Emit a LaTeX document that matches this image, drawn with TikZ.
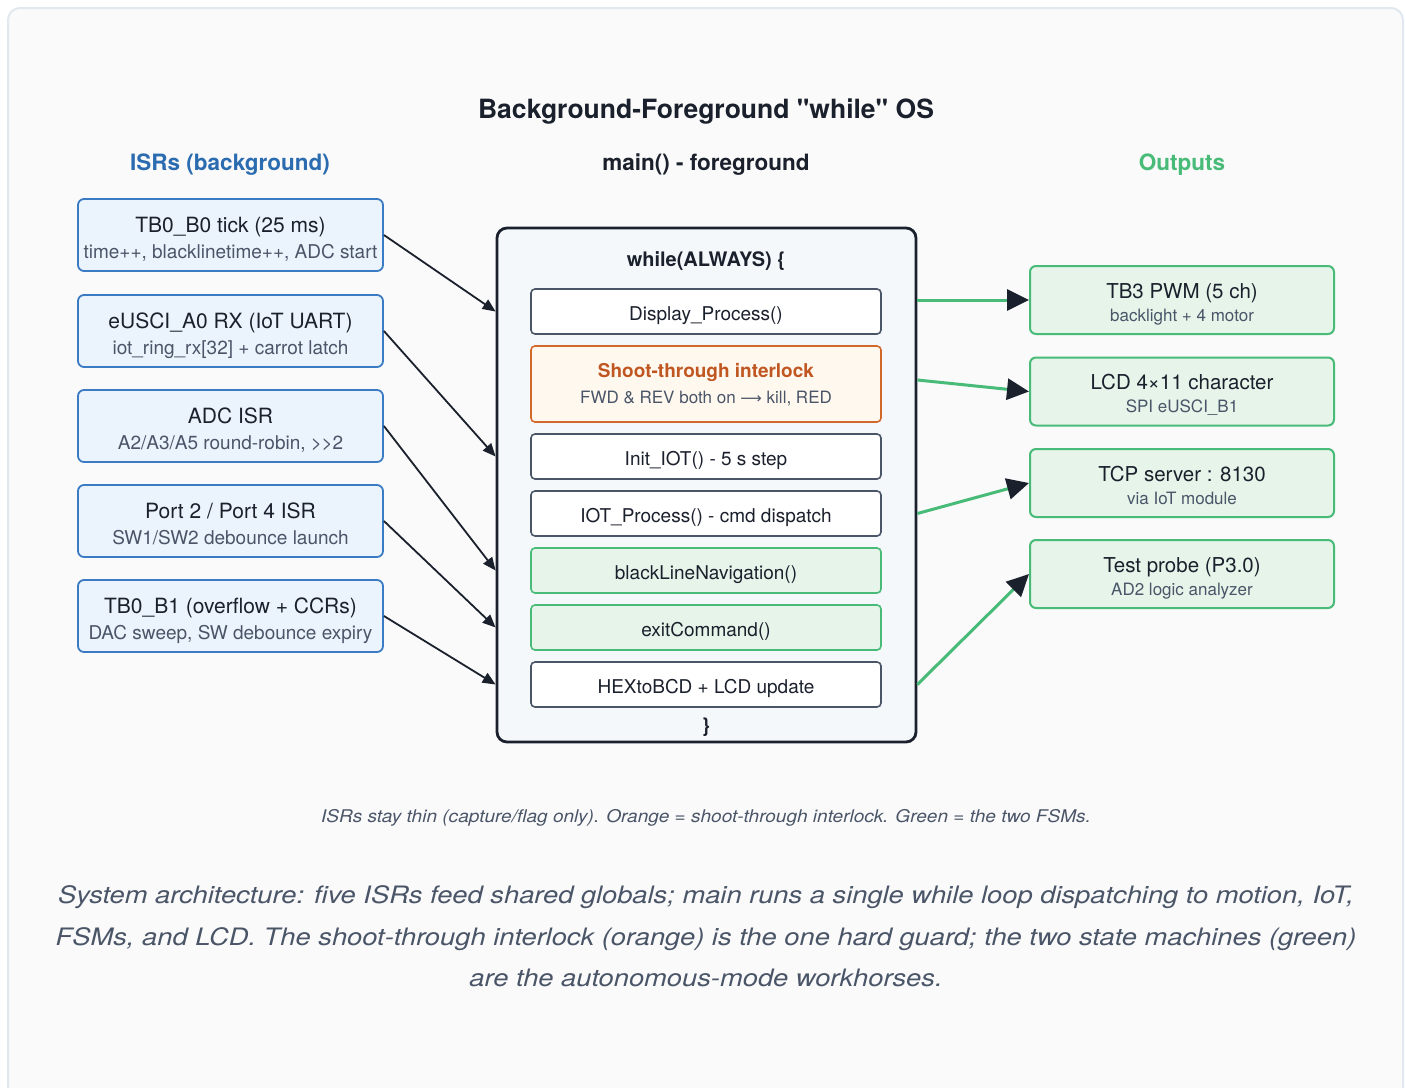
\documentclass[tikz,border=0pt]{standalone}
\usepackage{fontspec}
\setmainfont{TeX Gyre Heros}
\newfontfamily\symfont{DejaVu Sans}
\usetikzlibrary{arrows.meta,calc}
\definecolor{ink}{HTML}{1A202C}
\definecolor{subgray}{HTML}{4A5568}
\definecolor{isrblue}{HTML}{2B6CB0}
\definecolor{isrfill}{HTML}{EBF4FD}
\definecolor{isrline}{HTML}{3B7BC4}
\definecolor{grn}{HTML}{48BB78}
\definecolor{grnfill}{HTML}{E6F4EA}
\definecolor{orn}{HTML}{C05621}
\definecolor{ornline}{HTML}{D2692A}
\definecolor{ornfill}{HTML}{FFF8EE}
\definecolor{mainfill}{HTML}{F5F8FB}
\definecolor{panelfill}{HTML}{FAFAFA}
\definecolor{panelline}{HTML}{E2E8F0}
\definecolor{innerline}{HTML}{4A5568}
\newcommand\setfs[1]{\fontsize{#1}{#1}\selectfont}
\begin{document}
\begin{tikzpicture}[x=1pt,y=-1pt,
  isrbox/.style={draw=isrline, fill=isrfill, line width=1.8pt, rounded corners=6pt,
    minimum width=305pt, minimum height=72pt, inner sep=0pt},
  outbox/.style={draw=grn, fill=grnfill, line width=2pt, rounded corners=6pt,
    minimum width=304pt, minimum height=68pt, inner sep=0pt},
  mainbox/.style={draw=ink, fill=mainfill, line width=2.8pt, rounded corners=10pt,
    minimum width=419pt, minimum height=514pt, inner sep=0pt},
  stepbox/.style={draw=innerline, fill=white, line width=1.6pt, rounded corners=4pt,
    minimum width=350pt, minimum height=45pt, inner sep=0pt},
  fsmbox/.style={stepbox, draw=grn, fill=grnfill},
  guardbox/.style={stepbox, draw=ornline, fill=ornfill, minimum height=76pt},
  ttl/.style={anchor=base, text=ink, font=\setfs{21}},
  sub/.style={anchor=base, text=subgray, font=\setfs{19}},
  osub/.style={anchor=base, text=subgray, font=\setfs{17}},
  itxt/.style={anchor=base, text=ink, font=\setfs{19}},
  hdr/.style={anchor=base, font=\bfseries\setfs{22.5}},
  captxt/.style={anchor=base, text=subgray, font=\itshape\setfs{24}},
  ln/.style={draw=ink, line width=1.8pt, -{Triangle[length=13pt,width=11pt]}},
  gln/.style={draw=grn, line width=3pt, -{Triangle[length=22pt,width=21pt,color=ink]}}
]
\useasboundingbox (0,0) rectangle (1405,1087);
\fill[white] (0,0) rectangle (1405,1087);
\draw[draw=panelline, fill=panelfill, line width=2pt, rounded corners=12pt] (8,8) rectangle (1403,1120);

% titles
\node[anchor=base, text=ink, font=\bfseries\setfs{26.5}] (title) at (706,118) {Background-Foreground \textquotedbl while\textquotedbl{} OS};
\node[hdr, text=isrblue] (hisr) at (230,170.5) {ISRs (background)};
\node[hdr, text=ink] (hmain) at (706,170.5) {main() - foreground};
\node[hdr, text=grn] (hout) at (1182,170.5) {Outputs};

% ISR boxes
\node[isrbox] (i1) at (230.5,235) {};
\node[isrbox] (i2) at (230.5,331) {};
\node[isrbox] (i3) at (230.5,426) {};
\node[isrbox] (i4) at (230.5,521) {};
\node[isrbox] (i5) at (230.5,616) {};
\node[ttl] at ($(i1.center)+(0,-3)$) {TB0\_B0 tick (25 ms)};
\node[sub] at ($(i1.center)+(0,23.5)$) {time++, blacklinetime++, ADC start};
\node[ttl] at ($(i2.center)+(0,-3)$) {eUSCI\_A0 RX (IoT UART)};
\node[sub] at ($(i2.center)+(0,23.5)$) {iot\_ring\_rx[32] + carrot latch};
\node[ttl] at ($(i3.center)+(0,-3)$) {ADC ISR};
\node[sub] at ($(i3.center)+(0,23.5)$) {A2/A3/A5 round-robin, >\kern-0.5pt>2};
\node[ttl] at ($(i4.center)+(0,-3)$) {Port 2 / Port 4 ISR};
\node[sub] at ($(i4.center)+(0,23.5)$) {SW1/SW2 debounce launch};
\node[ttl] at ($(i5.center)+(0,-3)$) {TB0\_B1 (overflow + CCRs)};
\node[sub] at ($(i5.center)+(0,23.5)$) {DAC sweep, SW debounce expiry};

% main loop
\node[mainbox] (main) at (706.5,485) {};
\node[anchor=base, text=ink, font=\bfseries\setfs{20}] (wh) at (706,266.5) {while(ALWAYS) \{};
\node[stepbox] (disp) at (706,311.5) {};
\node[itxt] at ($(disp.center)+(0,9)$) {Display\_Process()};
\node[guardbox] (shoot) at (706,384) {};
\node[anchor=base, text=orn, font=\bfseries\setfs{19}] at ($(shoot.center)+(0,-6.7)$) {Shoot-through interlock};
\node[osub] at ($(shoot.center)+(0,19.3)$) {FWD \& REV both on {\symfont\setfs{15}⟶} kill, RED};
\node[stepbox] (init) at (706,456.5) {};
\node[itxt] at ($(init.center)+(0,9)$) {Init\_IOT() - 5 s step};
\node[stepbox] (iotp) at (706,513.5) {};
\node[itxt] at ($(iotp.center)+(0,9)$) {IOT\_Process() - cmd dispatch};
\node[fsmbox] (bln) at (706,570.5) {};
\node[itxt] at ($(bln.center)+(0,9)$) {blackLineNavigation()};
\node[fsmbox] (exitc) at (706,627.5) {};
\node[itxt] at ($(exitc.center)+(0,9)$) {exitCommand()};
\node[stepbox] (hex) at (706,684.5) {};
\node[itxt] at ($(hex.center)+(0,9)$) {HEXtoBCD + LCD update};
\node[text=ink, font=\bfseries\setfs{20}] (cb) at (706,727) {\}};

% outputs
\node[outbox] (o1) at (1182,300) {};
\node[outbox] (o2) at (1182,391.5) {};
\node[outbox] (o3) at (1182,483) {};
\node[outbox] (o4) at (1182,574) {};
\node[ttl, font=\setfs{20.5}] at ($(o1.center)+(0,-2)$) {TB3 PWM (5 ch)};
\node[osub] at ($(o1.center)+(0,21)$) {backlight + 4 motor};
\node[ttl, font=\setfs{20.5}] at ($(o2.center)+(0,-2)$) {LCD 4×11 character};
\node[osub] at ($(o2.center)+(0,21)$) {SPI eUSCI\_B1};
\node[ttl, font=\setfs{20.5}] at ($(o3.center)+(0,-2)$) {TCP server : 8130};
\node[osub] at ($(o3.center)+(0,21)$) {via IoT module};
\node[ttl, font=\setfs{20.5}] at ($(o4.center)+(0,-2)$) {Test probe (P3.0)};
\node[osub] at ($(o4.center)+(0,21)$) {AD2 logic analyzer};

% connectors
\draw[ln] (i1.east) -- (main.west |- disp.west);
\draw[ln] (i2.east) -- (main.west |- init.west);
\draw[ln] (i3.east) -- (main.west |- bln.west);
\draw[ln] (i4.east) -- (main.west |- exitc.west);
\draw[ln] (i5.east) -- (main.west |- hex.west);
\draw[gln] (main.east |- o1.west) -- (o1.west);
\draw[gln] ($(main.east |- shoot.east)+(0,-4)$) -- (o2.west);
\draw[gln] (main.east |- iotp.east) -- (o3.west);
\draw[gln] (main.east |- hex.east) -- (o4.west);

% captions
\node[anchor=base, text=subgray, font=\itshape\setfs{17.5}] (cap) at (706,822) {\scalebox{1.088}[1]{ISRs stay thin (capture/flag only). Orange = shoot-through interlock. Green = the two FSMs.}};
\node[captxt] (c1) at (706,903.5) {\scalebox{1.138}[1]{System architecture: five ISRs feed shared globals; main runs a single while loop dispatching to motion, IoT,}};
\node[captxt] (c2) at (706,945) {\scalebox{1.138}[1]{FSMs, and LCD. The shoot-through interlock (orange) is the one hard guard; the two state machines (green)}};
\node[captxt] (c3) at (706,986.5) {\scalebox{1.138}[1]{are the autonomous-mode workhorses.}};
\end{tikzpicture}
\end{document}
